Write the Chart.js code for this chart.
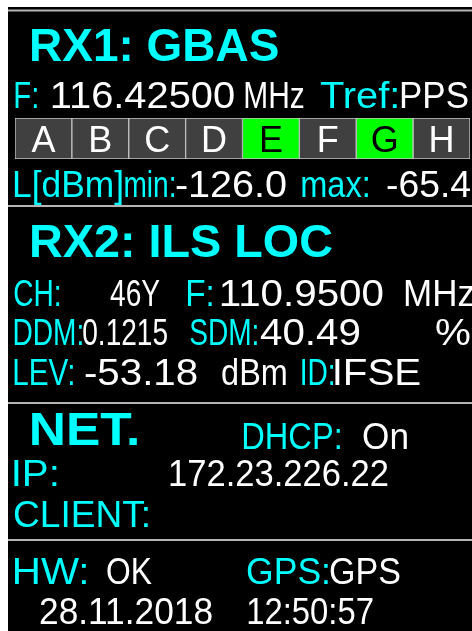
<!DOCTYPE html>
<html>
<head>
<meta charset="utf-8">
<script src="https://cdn.jsdelivr.net/npm/chart.js@4.4.1/dist/chart.umd.min.js"></script>
<style>
  html, body { margin: 0; padding: 0; background: #fff; }
  canvas { display: block; }
</style>
</head>
<body>
<canvas id="panel" width="472" height="631"></canvas>
<script>
// channel row of RX1 (A..H), 1 = active (green)
const channels = ['A', 'B', 'C', 'D', 'E', 'F', 'G', 'H'];
const channelActive = [0, 0, 0, 0, 1, 0, 1, 0];
const channelLevel = [1, 1, 1, 1, 1, 1, 1, 1];

// panel texts
const rx1Title = 'RX1: GBAS';
const rx1Freq = ['F:', '116.42500', 'MHz', 'Tref:', 'PPS'];
const rx1Level = ['L[dBm]', 'min:', '-126.0', 'max:', '-65.4'];
const rx2Title = 'RX2: ILS LOC';
const rx2Chan = ['CH:', '46Y', 'F:', '110.9500', 'MHz'];
const rx2Ddm = ['DDM:', '0.1215', 'SDM:', '40.49', '%'];
const rx2Lev = ['LEV:', '-53.18', 'dBm', 'ID:', 'IFSE'];
const netTitle = 'NET.';
const netDhcp = ['DHCP:', 'On'];
const netIp = ['IP:', '172.23.226.22'];
const netClient = ['CLIENT:'];
const hwRow = ['HW:', 'OK', 'GPS:', 'GPS'];
const dateRow = ['28.11.2018', '12:50:57'];

const CYAN = '#00ffff';
const WHITE = '#ffffff';
const FS = 36;   // normal text size
const TS = 47;   // title size

// layout: [text, x0, x1, baseline, size, bold, color]
const layout = [
  [rx1Title, 32, 278, 61, TS, true, CYAN],
  [rx1Freq[0], 15, 37, 108, FS, false, CYAN],
  [rx1Freq[1], 52, 234, 108, FS, false, WHITE],
  [rx1Freq[2], 245, 304, 108, FS, false, WHITE],
  [rx1Freq[3], 320, 397, 108, FS, false, CYAN],
  [rx1Freq[4], 401, 468, 108, FS, false, WHITE],
  [rx1Level[0], 14, 122, 197, FS, false, CYAN],
  [rx1Level[1], 125, 173, 197, FS, false, CYAN],
  [rx1Level[2], 176, 286, 197, FS, false, WHITE],
  [rx1Level[3], 302, 368, 197, FS, false, CYAN],
  [rx1Level[4], 387, 470, 197, FS, false, WHITE],
  [rx2Title, 32, 332, 257, TS, true, CYAN],
  [rx2Chan[0], 14, 58, 306, FS, false, CYAN],
  [rx2Chan[1], 110, 160, 306, FS, false, WHITE],
  [rx2Chan[2], 187, 212, 306, FS, false, CYAN],
  [rx2Chan[3], 221, 390, 306, FS, false, WHITE],
  [rx2Chan[4], 405, 474, 306, FS, false, WHITE],
  [rx2Ddm[0], 14, 72, 345, FS, false, CYAN],
  [rx2Ddm[1], 83, 163, 345, FS, false, WHITE],
  [rx2Ddm[2], 190, 255, 345, FS, false, CYAN],
  [rx2Ddm[3], 260, 395, 345, FS, false, WHITE],
  [rx2Ddm[4], 436, 470, 345, FS, false, WHITE],
  [rx2Lev[0], 14, 73, 385, FS, false, CYAN],
  [rx2Lev[1], 85, 210, 385, FS, false, WHITE],
  [rx2Lev[2], 222, 286, 385, FS, false, WHITE],
  [rx2Lev[3], 302, 332, 385, FS, false, CYAN],
  [rx2Lev[4], 335, 422, 385, FS, false, WHITE],
  [netTitle, 32, 137, 445, TS, true, CYAN],
  [netDhcp[0], 243, 340, 449, FS, false, CYAN],
  [netDhcp[1], 363, 407, 449, FS, false, WHITE],
  [netIp[0], 14, 58, 486, FS, false, CYAN],
  [netIp[1], 170, 388, 486, FS, false, WHITE],
  [netClient[0], 14, 148, 527, FS, false, CYAN],
  [hwRow[0], 14, 92, 584, FS, false, CYAN],
  [hwRow[1], 107, 152, 584, FS, false, WHITE],
  [hwRow[2], 247, 328, 584, FS, false, CYAN],
  [hwRow[3], 330, 400, 584, FS, false, WHITE],
  [dateRow[0], 40, 212, 624, FS, false, WHITE],
  [dateRow[1], 248, 373, 624, FS, false, WHITE]
];

const separators = [10.5, 206, 403, 540];

// draws text so its ink runs from x0 to x1 (stretch kept within limits)
function drawFit(ctx, text, x0, x1, y, size, bold, color) {
  ctx.save();
  ctx.font = (bold ? 'bold ' : '') + size + 'px "Liberation Sans", Arial, sans-serif';
  ctx.fillStyle = color;
  ctx.textBaseline = 'alphabetic';
  ctx.textAlign = 'left';
  const m = ctx.measureText(text);
  const ink = m.actualBoundingBoxLeft + m.actualBoundingBoxRight;
  let sx = ink > 0 ? (x1 - x0) / ink : 1;
  sx = Math.max(0.78, Math.min(1.12, sx));
  ctx.translate(x0, y);
  ctx.scale(sx, 1);
  ctx.fillText(text, m.actualBoundingBoxLeft, 0);
  ctx.restore();
}

const panelPlugin = {
  id: 'panel',
  beforeDraw(chart) {
    const ctx = chart.ctx;
    ctx.save();
    ctx.fillStyle = '#ffffff';
    ctx.fillRect(0, 0, chart.width, chart.height);
    ctx.fillStyle = '#000000';
    ctx.fillRect(8, 7, chart.width - 8, chart.height - 7);
    ctx.strokeStyle = '#b4b4b4';
    ctx.lineWidth = 2;
    separators.forEach(y => {
      ctx.beginPath();
      ctx.moveTo(8, y);
      ctx.lineTo(chart.width, y);
      ctx.stroke();
    });
    ctx.restore();
  },
  afterDatasetsDraw(chart) {
    const ctx = chart.ctx;
    const meta = chart.getDatasetMeta(0);
    ctx.save();
    ctx.font = FS + 'px "Liberation Sans", Arial, sans-serif';
    ctx.textAlign = 'center';
    ctx.textBaseline = 'alphabetic';
    meta.data.forEach((bar, i) => {
      ctx.fillStyle = channelActive[i] ? '#000000' : '#ffffff';
      ctx.fillText(channels[i], bar.x, 152);
    });
    ctx.restore();
    layout.forEach(t => drawFit(ctx, ...t));
  }
};

new Chart(document.getElementById('panel'), {
  type: 'bar',
  data: {
    labels: channels,
    datasets: [{
      data: channelLevel,
      backgroundColor: channelActive.map(a => a ? '#00ff00' : '#404040'),
      borderColor: '#c4c4c4',
      borderWidth: 1,
      borderSkipped: false,
      categoryPercentage: 1,
      barPercentage: 1
    }]
  },
  options: {
    responsive: false,
    animation: false,
    layout: { padding: { left: 15, right: 2, top: 118, bottom: 472 } },
    scales: {
      x: { display: false },
      y: { display: false, min: 0, max: 1 }
    },
    plugins: {
      legend: { display: false },
      tooltip: { enabled: false }
    }
  },
  plugins: [panelPlugin]
});
</script>
</body>
</html>
